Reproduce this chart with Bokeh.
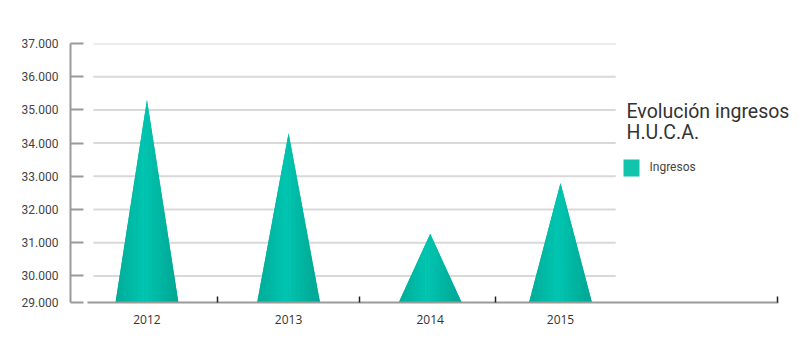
import numpy as np
from bokeh.plotting import figure
from bokeh.models import Range1d, FixedTicker, Label, BoxAnnotation, ColumnDataSource
from bokeh.embed import file_html
from bokeh.resources import INLINE

# ---- data ----
years = ["2012", "2013", "2014", "2015"]
ingresos = [35300, 34300, 31270, 32800]
y_ticks = [29200, 30000, 31000, 32000, 33000, 34000, 35000, 36000, 37000]
y_tick_labels = ["29.000", "30.000", "31.000", "32.000", "33.000",
                 "34.000", "35.000", "36.000", "37.000"]
title_lines = ["Evolución ingresos", "H.U.C.A."]
legend_label = "Ingresos"

# ---- layout constants ----
cat_pos = [0.0, 1.0, 2.0, 2.92]          # category centres on the x scale
cat_bounds = [0.5, 1.5, 2.46, 4.455]      # category separator ticks
half_w = 0.222                            # half base width of a triangle
grid_x0, grid_x1 = -0.378, 3.31           # extent of the horizontal grid lines
axis_x0, axis_x1 = -0.42, 4.46            # extent of the x axis line
Y0, Y1 = y_ticks[0], y_ticks[-1]

p = figure(width=805, height=340, output_backend="svg", toolbar_location=None,
           x_range=Range1d(-0.54, 4.65), y_range=Range1d(Y0, Y1),
           min_border_left=70, min_border_right=0, min_border_top=43,
           min_border_bottom=38)
p.outline_line_color = None
p.xgrid.visible = False
p.ygrid.visible = False
p.background_fill_color = "white"

# grid lines (do not span the whole frame)
gy = y_ticks[1:]
p.segment(x0=[grid_x0] * len(gy), x1=[grid_x1] * len(gy), y0=gy, y1=gy,
          line_color="#d9d9d9", line_width=2)

# triangles with a horizontal gradient, built from vertical strips
def hex2rgb(h):
    h = h.lstrip("#")
    return np.array([int(h[i:i + 2], 16) for i in (0, 2, 4)], dtype=float)

c_left, c_mid, c_right = hex2rgb("#00ab98"), hex2rgb("#00c6b1"), hex2rgb("#00a492")
mid_t = -0.1

def grad(t):
    if t <= mid_t:
        f = (t + 1) / (mid_t + 1)
        c = c_left + (c_mid - c_left) * f
    else:
        f = (t - mid_t) / (1 - mid_t)
        c = c_mid + (c_right - c_mid) * f
    return "#%02x%02x%02x" % tuple(int(round(v)) for v in c)

base_xs, base_ys = [], []
xs_all, ys_all, cols = [], [], []
n = 24
for cx, val in zip(cat_pos, ingresos):
    base_xs.append([cx - half_w, cx, cx + half_w])
    base_ys.append([Y0, val, Y0])
    edges = np.linspace(cx - half_w, cx + half_w, n + 1)

    def yat(x):
        return Y0 + (val - Y0) * (1 - abs(x - cx) / half_w)

    for a, b in zip(edges[:-1], edges[1:]):
        xs_all.append([a, b, b, a])
        ys_all.append([Y0, Y0, yat(b), yat(a)])
        t = ((a + b) / 2 - cx) / half_w
        cols.append(grad(t))

p.patches(base_xs, base_ys, fill_color="#00b7a3", line_color=None)
src = ColumnDataSource(dict(xs=xs_all, ys=ys_all, c=cols))
p.patches("xs", "ys", source=src, fill_color="c", line_color=None)

# ---- axes ----
yax = p.yaxis[0]
yax.ticker = FixedTicker(ticks=y_ticks)
yax.major_label_overrides = {t: l for t, l in zip(y_ticks, y_tick_labels)}
yax.axis_line_color = "#9a9a9a"
yax.axis_line_width = 2
yax.major_tick_in = 13
yax.major_tick_out = 0
yax.major_tick_line_color = "#9a9a9a"
yax.major_tick_line_width = 2
yax.minor_tick_line_color = None
yax.major_label_standoff = 12
yax.major_label_text_font = "Roboto"
yax.major_label_text_font_size = "12px"
yax.major_label_text_color = "#444444"

xax = p.xaxis[0]
xax.bounds = (axis_x0, axis_x1)
xax.ticker = FixedTicker(ticks=cat_pos, minor_ticks=cat_bounds)
xax.major_label_overrides = {t: l for t, l in zip(cat_pos, years)}
xax.axis_line_color = "#9a9a9a"
xax.axis_line_width = 2
xax.major_tick_in = 0
xax.major_tick_out = 0
xax.minor_tick_in = 6
xax.minor_tick_out = 0
xax.minor_tick_line_color = "#222222"
xax.minor_tick_line_width = 1.5
xax.major_label_standoff = 12
xax.major_label_text_font = "Open Sans"
xax.major_label_text_font_size = "12px"
xax.major_label_text_color = "#333333"

# ---- title / legend (screen units, relative to frame bottom-left) ----
p.add_layout(Label(x=556, y=191, x_units="screen", y_units="screen",
                   text=title_lines[0], text_font="Roboto", text_font_size="19.5px",
                   text_color="#333333", text_baseline="middle"))
p.add_layout(Label(x=556, y=170, x_units="screen", y_units="screen",
                   text=title_lines[1], text_font="Roboto", text_font_size="19.5px",
                   text_color="#333333", text_baseline="middle"))
p.add_layout(BoxAnnotation(left=553, right=569, top=143, bottom=126,
                           left_units="screen", right_units="screen",
                           top_units="screen", bottom_units="screen",
                           fill_color="#13c4ad", fill_alpha=1, line_color=None))
p.add_layout(Label(x=579, y=136, x_units="screen", y_units="screen",
                   text=legend_label, text_font="Roboto", text_font_size="12px",
                   text_color="#444444", text_baseline="middle"))

open("out.html", "w").write(file_html(p, INLINE))
